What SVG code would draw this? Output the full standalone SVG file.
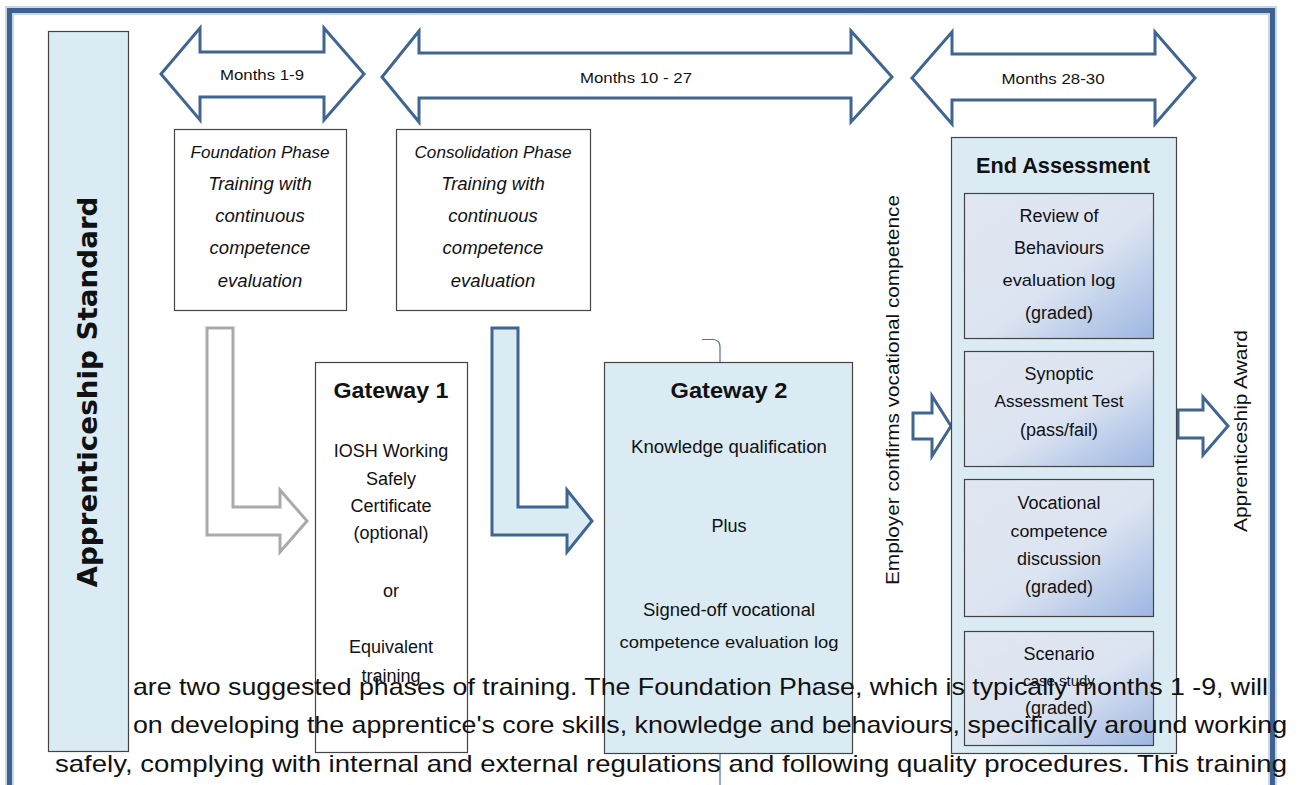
<svg xmlns="http://www.w3.org/2000/svg" width="1300" height="785" viewBox="0 0 1300 785">
<defs>
<linearGradient id="gr" x1="0" y1="0" x2="1" y2="1">
<stop offset="0" stop-color="#e1e7f2"/>
<stop offset="0.55" stop-color="#dce4f1"/>
<stop offset="1" stop-color="#9db6e2"/>
</linearGradient>
<style>
.t{font-family:"Liberation Sans",Arial,sans-serif;fill:#111;text-anchor:middle}
.it{font-style:italic;font-size:18.5px}
.b{font-weight:bold}
.box{stroke:#444;stroke-width:1.2}
.lb{fill:#daebf3}
.wh{fill:#fff}
.dbl{fill:#fff;stroke:#3f6591;stroke-width:3;stroke-linejoin:miter}
.inner{fill:url(#gr);stroke:#444;stroke-width:1.2}
.body{font-family:"Liberation Sans",Arial,sans-serif;font-size:24px;fill:#111}
</style>
</defs>
<rect width="1300" height="785" fill="#fff"/>
<rect x="9.5" y="10.5" width="1263" height="800" fill="none" stroke="#c9d6e6" stroke-width="9"/>
<rect x="9.5" y="10.5" width="1263" height="800" fill="none" stroke="#3e6290" stroke-width="5"/>

<g id="connectors">
<path class="dbl" d="M161,74 L200,28 L200,52 L324,52 L324,28 L364,74 L324,120 L324,97 L200,97 L200,120 Z"/>
<path class="dbl" d="M382,77 L419,31 L419,53 L851,53 L851,31 L892,77 L851,122 L851,98 L419,98 L419,122 Z"/>
<path class="dbl" d="M912,78 L952,32 L952,54 L1155,54 L1155,32 L1195,78 L1155,124 L1155,100 L952,100 L952,124 Z"/>
<path d="M207,328 L233,328 L233,507 L280,507 L280,490 L307,521 L280,552 L280,535 L207,535 Z" fill="#fff" stroke="#aaaaaa" stroke-width="3"/>
<path d="M492,328 L518,328 L518,507 L567,507 L567,490 L592,521 L567,552 L567,535 L492,535 Z" fill="#daebf3" stroke="#3f6591" stroke-width="3"/>
<path d="M913,413 L932,413 L932,396 L951,426 L932,456 L932,439 L913,439 Z" fill="#fff" stroke="#3f6591" stroke-width="3"/>
<path d="M1178,410 L1203,410 L1203,397 L1228,426 L1203,455 L1203,438 L1178,438 Z" fill="#fff" stroke="#3f6591" stroke-width="3"/>
<path d="M702,339.5 L713,339.5 Q720,340 720,347 L720,362" fill="none" stroke="#4a72a8" stroke-width="1.2"/>
<path d="M720,754 L720,785" fill="none" stroke="#4a72a8" stroke-width="1.2"/>
</g>

<g id="months">
<text class="t" x="262" y="80" font-size="15.5" textLength="84" lengthAdjust="spacingAndGlyphs">Months 1-9</text>
<text class="t" x="636" y="83" font-size="15.5" textLength="112" lengthAdjust="spacingAndGlyphs">Months 10 - 27</text>
<text class="t" x="1053" y="84" font-size="15.5" textLength="103" lengthAdjust="spacingAndGlyphs">Months 28-30</text>
</g>

<g id="foundation">
<rect class="box wh" x="174.5" y="129.5" width="172" height="181"/>
<text class="t it" x="260" y="158" style="font-size:17px" textLength="139" lengthAdjust="spacingAndGlyphs">Foundation Phase</text>
<text class="t it" x="260" y="190">Training with</text>
<text class="t it" x="260" y="222">continuous</text>
<text class="t it" x="260" y="254">competence</text>
<text class="t it" x="260" y="287">evaluation</text>
</g>

<g id="consolidation">
<rect class="box wh" x="396.5" y="129.5" width="194" height="181"/>
<text class="t it" x="493" y="158" style="font-size:17px" textLength="157" lengthAdjust="spacingAndGlyphs">Consolidation Phase</text>
<text class="t it" x="493" y="190">Training with</text>
<text class="t it" x="493" y="222">continuous</text>
<text class="t it" x="493" y="254">competence</text>
<text class="t it" x="493" y="287">evaluation</text>
</g>

<g id="gateway1">
<rect class="box wh" x="315.5" y="362.5" width="152" height="390"/>
<text class="t b" x="391" y="398" font-size="22" textLength="115" lengthAdjust="spacingAndGlyphs">Gateway 1</text>
<text class="t" x="391" y="457" font-size="18">IOSH Working</text>
<text class="t" x="391" y="485" font-size="18">Safely</text>
<text class="t" x="391" y="512" font-size="18">Certificate</text>
<text class="t" x="391" y="539" font-size="18">(optional)</text>
<text class="t" x="391" y="597" font-size="18">or</text>
<text class="t" x="391" y="653" font-size="18">Equivalent</text>
<text class="t" x="391" y="682" font-size="18">training</text>
</g>

<g id="gateway2">
<rect class="box lb" x="604.5" y="362.5" width="248" height="391"/>
<text class="t b" x="729" y="398" font-size="22" textLength="117" lengthAdjust="spacingAndGlyphs">Gateway 2</text>
<text class="t" x="729" y="453" font-size="17.5" textLength="196" lengthAdjust="spacingAndGlyphs">Knowledge qualification</text>
<text class="t" x="729" y="532" font-size="18">Plus</text>
<text class="t" x="729" y="616" font-size="17.5" textLength="172" lengthAdjust="spacingAndGlyphs">Signed-off vocational</text>
<text class="t" x="729" y="648" font-size="17" textLength="219" lengthAdjust="spacingAndGlyphs">competence evaluation log</text>
</g>

<g id="employer">
<text class="t" transform="translate(899,390) rotate(-90)" font-size="17.5" textLength="390" lengthAdjust="spacingAndGlyphs">Employer confirms vocational competence</text>
</g>

<g id="end-assessment">
<rect class="box lb" x="951.5" y="137.5" width="225" height="616"/>
<text class="t b" x="1063" y="173" font-size="22" textLength="174" lengthAdjust="spacingAndGlyphs">End Assessment</text>
<rect class="inner" x="964.5" y="193.5" width="189" height="145"/>
<text class="t" x="1059" y="222" font-size="18">Review of</text>
<text class="t" x="1059" y="254" font-size="18">Behaviours</text>
<text class="t" x="1059" y="286" font-size="17" textLength="113" lengthAdjust="spacingAndGlyphs">evaluation log</text>
<text class="t" x="1059" y="319" font-size="18">(graded)</text>
<rect class="inner" x="964.5" y="351.5" width="189" height="115"/>
<text class="t" x="1059" y="380" font-size="18">Synoptic</text>
<text class="t" x="1059" y="407" font-size="16.5" textLength="129" lengthAdjust="spacingAndGlyphs">Assessment Test</text>
<text class="t" x="1059" y="436" font-size="18">(pass/fail)</text>
<rect class="inner" x="964.5" y="479.5" width="189" height="137"/>
<text class="t" x="1059" y="509" font-size="18">Vocational</text>
<text class="t" x="1059" y="537" font-size="16.5" textLength="97" lengthAdjust="spacingAndGlyphs">competence</text>
<text class="t" x="1059" y="565" font-size="18">discussion</text>
<text class="t" x="1059" y="593" font-size="18">(graded)</text>
<rect class="inner" x="964.5" y="631.5" width="189" height="114"/>
<text class="t" x="1059" y="660" font-size="18">Scenario</text>
<text class="t" x="1059" y="686" font-size="15">case study</text>
<text class="t" x="1059" y="714" font-size="18">(graded)</text>
</g>

<g id="award">
<text class="t" transform="translate(1247,431) rotate(-90)" font-size="17.5" textLength="202" lengthAdjust="spacingAndGlyphs">Apprenticeship Award</text>
</g>

<g id="paragraph">
<text class="body" x="133" y="695" textLength="1135" lengthAdjust="spacingAndGlyphs">are two suggested phases of training. The Foundation Phase, which is typically months 1 -9, will</text>
<text class="body" x="133" y="733" textLength="1154" lengthAdjust="spacingAndGlyphs">on developing the apprentice's core skills, knowledge and behaviours, specifically around working</text>
<text class="body" x="55" y="772" textLength="1232" lengthAdjust="spacingAndGlyphs">safely, complying with internal and external regulations and following quality procedures. This training</text>
</g>

<g id="apprenticeship-standard">
<rect class="box lb" x="48.5" y="31.5" width="80" height="720"/>
<text class="t b" transform="translate(97,392) rotate(-90)" style="font-family:'DejaVu Sans',sans-serif" font-size="26" textLength="391" lengthAdjust="spacingAndGlyphs">Apprenticeship Standard</text>
</g>
</svg>
